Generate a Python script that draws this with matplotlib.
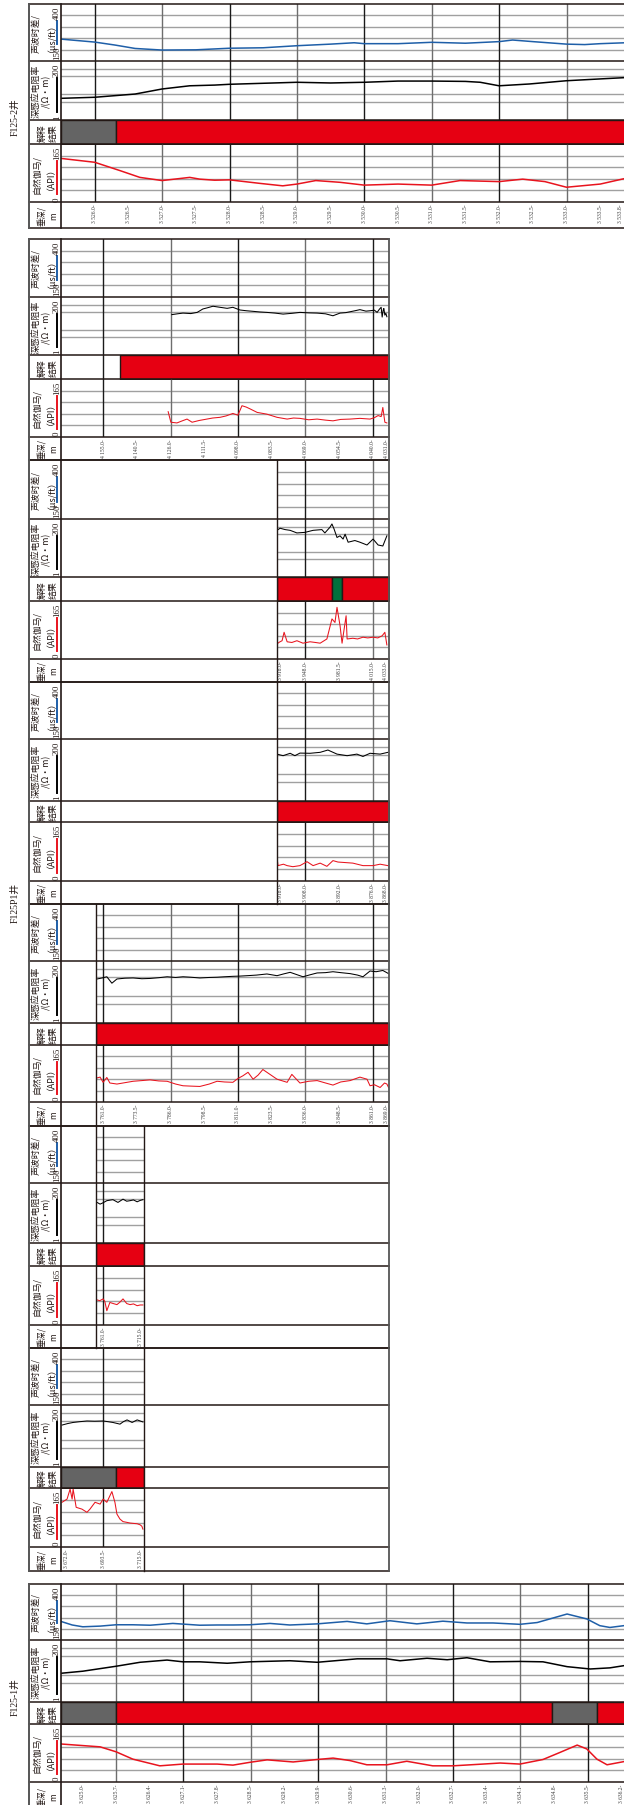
import numpy as np
import matplotlib.pyplot as plt

plt.rcParams['font.family'] = ['Noto Sans CJK SC', 'DejaVu Sans']
SERIF = ['Liberation Serif', 'Noto Sans CJK SC']

W, H = 624, 1806

red = '#e60012'
grey = '#646464'
green = '#00703c'
blue = '#1f5fa8'
gr_red = '#e8141e'
ink = '#231815'
hgrid = '#a0a0a0'
vgrid_cols = ['#1a1a1a', '#6e6e6e']

# track scales and grid values
ac_lim = (150, 400)
rt_lim = (1, 200)
gr_lim = (0, 165)
ac_grid = [200, 250, 300, 350]
rt_grid = [5, 10, 50, 100]
gr_grid = [33, 66, 99, 132]

head_lines = [["声波时差/", "（μs/ft）"], ["深感应电阻率", "/(Ω·m)"], ["解释", "结果"],
              ["自然伽马/", "（API）"], ["垂深/", "m"]]
head_scale = [("150", "400", blue), ("1", "200", "black"), None, ("0", "165", gr_red), None]

# ---------------- F125-2井 (depth, m) ----------------
f2_ac_d = [3525.50, 3526.00, 3526.30, 3526.60, 3527.00, 3527.50, 3528.00, 3528.50, 3529.00, 3529.50,
           3529.85, 3530.00, 3530.50, 3531.00, 3531.50, 3532.00, 3532.20, 3532.50, 3533.00, 3533.27,
           3533.50, 3533.87]
f2_ac = [246, 233, 220, 205, 198, 199, 206, 208, 217, 224, 230, 226, 226, 232, 228, 235, 242, 235,
         224, 222, 226, 230]
f2_rt_d = [3525.50, 3526.00, 3526.60, 3527.00, 3527.41, 3527.78, 3528.00, 3529.00, 3529.50, 3530.00,
           3530.50, 3531.00, 3531.50, 3531.72, 3532.00, 3532.45, 3533.00, 3533.50, 3533.87]
f2_rt = [7.0, 7.7, 10.3, 16.2, 21.6, 23, 24.7, 29.6, 27.8, 29.6, 33, 33, 32, 29.6, 21.6, 25.4, 34, 40, 45]
f2_gr_d = [3525.50, 3526.00, 3526.38, 3526.67, 3527.00, 3527.41, 3527.56, 3527.78, 3528.00, 3528.45,
           3528.79, 3529.00, 3529.28, 3529.64, 3530.00, 3530.50, 3531.00, 3531.42, 3532.00, 3532.35,
           3532.68, 3533.00, 3533.50, 3533.87]
f2_gr = [124, 113, 89, 70, 61, 70, 65, 62, 63, 53, 46, 51, 61, 56, 48, 51, 48, 61, 58, 65, 58, 42, 51, 67]
f2_bars = [(3525.5, 3526.32, grey), (3526.32, 3533.9, red)]
f2_ticks = [3526.0, 3526.5, 3527.0, 3527.5, 3528.0, 3528.5, 3529.0, 3529.5, 3530.0, 3530.5, 3531.0,
            3531.5, 3532.0, 3532.5, 3533.0, 3533.5, 3533.8]
f2_vgrid = [3526, 3527, 3528, 3529, 3530, 3531, 3532, 3533]

# ---------------- F125P1井 (along-hole position, TVD labels) ----------------
p1_vgrid = [1.25, 3.25, 5.25, 7.25, 9.25]
p1_ticks_full = [1.25, 2.25, 3.25, 4.25, 5.25, 6.25, 7.25, 8.25, 9.25, 9.65]
p1_ticks_tail = [6.5, 7.25, 8.25, 9.25, 9.62]

b_labels = ["4 155.0", "4 140.5", "4 126.0", "4 111.5", "4 098.0", "4 083.5", "4 069.0", "4 054.5",
            "4 040.0", "4 031.0"]
b_rt_u = [3.29, 3.45, 3.62, 3.85, 4.04, 4.21, 4.35, 4.51, 4.72, 4.93, 5.10, 5.31, 5.50, 5.70, 5.90,
          6.11, 6.35, 6.59, 6.85, 7.09, 7.35, 7.60, 7.85, 8.07, 8.28, 8.45, 8.58, 8.75, 8.87, 9.05,
          9.17, 9.30, 9.38, 9.45, 9.50, 9.53, 9.56, 9.58, 9.61, 9.64, 9.67]
b_rt = [40, 43, 46, 44, 49, 67, 75, 86, 78, 71, 78, 61, 57, 54, 51, 49, 46, 42, 45, 49, 47, 46, 43,
        36, 46, 48, 52, 58, 63, 55, 57, 60, 49, 66, 78, 32, 60, 70, 38, 45, 33]
b_gr_u = [3.18, 3.26, 3.44, 3.60, 3.74, 3.89, 4.10, 4.33, 4.50, 4.72, 4.90, 5.10, 5.25, 5.37, 5.50,
          5.61, 5.82, 6.11, 6.41, 6.71, 6.90, 7.09, 7.35, 7.60, 7.85, 8.07, 8.30, 8.58, 8.87, 9.17,
          9.30, 9.41, 9.50, 9.55, 9.61, 9.67]
b_gr = [72, 42, 40, 46, 51, 42, 47, 51, 54, 56, 60, 67, 62, 89, 85, 80, 70, 65, 56, 51, 54, 53, 49,
        51, 48, 46, 50, 51, 53, 51, 55, 61, 58, 84, 42, 40]
b_bars = [(1.75, 9.72, red)]

c_labels = ["3 918.0", "3 948.0", "3 981.5", "4 015.0", "4 033.0"]
c_rt_u = [6.41, 6.50, 6.65, 6.80, 7.00, 7.24, 7.48, 7.74, 7.83, 7.98, 8.04, 8.10, 8.19, 8.28, 8.37,
          8.43, 8.52, 8.72, 8.87, 9.08, 9.26, 9.41, 9.55, 9.67]
c_rt = [71, 86, 76, 71, 56, 59, 71, 76, 56, 94, 127, 82, 37, 43, 32, 50, 24, 28, 24, 18.6, 32, 18.6,
        17, 43]
c_gr_u = [6.41, 6.48, 6.56, 6.62, 6.71, 6.85, 7.00, 7.18, 7.39, 7.55, 7.69, 7.89, 8.04, 8.13, 8.19,
          8.28, 8.34, 8.46, 8.49, 8.66, 8.80, 8.96, 9.10, 9.26, 9.40, 9.53, 9.61, 9.67]
c_gr = [43, 48, 52, 76, 49, 47, 52, 45, 49, 47, 45, 57, 114, 104, 147, 95, 45, 123, 57, 59, 57, 62,
        60, 62, 60, 66, 76, 40]
c_bars = [(6.41, 8.04, red), (8.04, 8.34, green), (8.34, 9.72, red)]

d_labels = ["3 918.0", "3 908.0", "3 892.0", "3 876.0", "3 868.0"]
d_rt_u = [6.41, 6.59, 6.80, 6.94, 7.09, 7.39, 7.69, 7.92, 8.19, 8.49, 8.78, 8.96, 9.17, 9.47, 9.70]
d_rt = [55, 48, 59, 48, 60, 59, 64, 78, 55, 48, 55, 45, 59, 55, 64]
d_gr_u = [6.41, 6.44, 6.60, 6.71, 6.88, 7.09, 7.30, 7.48, 7.69, 7.89, 8.07, 8.22, 8.37, 8.66, 8.96,
          9.26, 9.47, 9.70]
d_gr = [66, 43, 47, 43, 40, 43, 54, 43, 50, 41, 57, 53, 52, 50, 43, 43, 47, 43]
d_bars = [(6.41, 9.72, red)]

e_labels = ["3 761.0", "3 773.5", "3 786.0", "3 798.5", "3 811.0", "3 823.5", "3 836.0", "3 848.5",
            "3 861.0", "3 869.0"]
e_rt_u = [1.07, 1.22, 1.36, 1.51, 1.66, 1.90, 2.14, 2.40, 2.64, 2.90, 3.15, 3.40, 3.62, 3.85, 4.12,
          4.40, 4.63, 4.85, 5.10, 5.30, 5.52, 5.80, 6.11, 6.41, 6.60, 6.80, 7.18, 7.40, 7.60, 7.85,
          8.07, 8.30, 8.58, 8.80, 8.96, 9.17, 9.35, 9.55, 9.72]
e_rt = [43, 47, 52, 30, 43, 46, 47, 44, 45, 48, 52, 49, 52, 50, 47, 49, 50, 52, 54, 55, 57, 60, 66,
        57, 66, 76, 52, 62, 72, 74, 80, 74, 68, 60, 52, 85, 80, 89, 68]
e_gr_u = [1.04, 1.16, 1.25, 1.36, 1.45, 1.66, 1.90, 2.14, 2.40, 2.64, 2.90, 3.15, 3.40, 3.62, 3.85,
          4.12, 4.40, 4.63, 4.85, 5.10, 5.25, 5.40, 5.55, 5.70, 5.85, 5.99, 6.20, 6.41, 6.71, 6.85,
          7.09, 7.35, 7.60, 7.85, 8.07, 8.30, 8.58, 8.87, 9.08, 9.17, 9.30, 9.47, 9.60, 9.67, 9.72]
e_gr = [69, 72, 57, 71, 55, 52, 56, 60, 62, 64, 61, 60, 52, 47, 46, 45, 52, 60, 58, 57, 68, 76, 86,
        66, 78, 94, 80, 66, 57, 80, 55, 60, 62, 55, 49, 58, 62, 72, 66, 47, 50, 42, 55, 52, 42]
e_bars = [(1.04, 9.72, red)]

f_labels = ["3 761.0", "3 715.0"]
f_ticks = [1.25, 2.37]
f_rt_u = [1.07, 1.16, 1.25, 1.36, 1.54, 1.69, 1.84, 1.95, 2.05, 2.15, 2.26, 2.35, 2.43]
f_rt = [36, 31, 35, 42, 46, 36, 48, 40, 42, 45, 38, 43, 46]
f_gr_u = [1.04, 1.15, 1.25, 1.30, 1.36, 1.45, 1.55, 1.66, 1.75, 1.84, 1.95, 2.05, 2.15, 2.26, 2.35,
          2.43]
f_gr = [71, 68, 73, 66, 40, 63, 60, 57, 64, 73, 60, 57, 59, 54, 56, 56]
f_bars = [(1.04, 2.46, red)]

g_labels = ["3 672.0", "3 693.5", "3 715.0"]
g_ticks = [0.15, 1.25, 2.37]
g_rt_u = [0.03, 0.20, 0.36, 0.55, 0.77, 1.00, 1.25, 1.40, 1.54, 1.75, 1.85, 1.96, 2.11, 2.26, 2.43]
g_rt = [36, 41, 45, 48, 51, 50, 51, 48, 45, 39, 48, 56, 45, 56, 47]
g_gr_u = [0.03, 0.18, 0.27, 0.33, 0.36, 0.45, 0.55, 0.62, 0.77, 0.86, 1.01, 1.16, 1.25, 1.36, 1.51,
          1.60, 1.66, 1.75, 1.84, 1.95, 2.05, 2.15, 2.26, 2.35, 2.40, 2.43]
g_gr = [125, 134, 162, 134, 162, 111, 108, 106, 97, 106, 125, 120, 134, 125, 155, 125, 92, 78, 71,
        69, 67, 66, 65, 62, 58, 50]
g_bars = [(0.0, 1.63, grey), (1.63, 2.46, red)]

# ---------------- F125-1井 (depth, m) ----------------
f1_ac_d = [3624.57, 3624.79, 3625.01, 3625.37, 3625.70, 3626.05, 3626.41, 3626.88, 3627.44, 3627.80,
           3628.13, 3628.48, 3628.90, 3629.31, 3629.88, 3630.50, 3630.91, 3631.39, 3631.95, 3632.49,
           3632.99, 3633.53, 3634.09, 3634.45, 3635.07, 3635.48, 3635.75, 3635.96, 3636.25]
f1_ac = [232, 217, 209, 212, 218, 218, 216, 224, 216, 217, 217, 218, 224, 217, 222, 233, 222, 236,
         222, 234, 226, 226, 220, 228, 266, 244, 214, 206, 214]
f1_rt_d = [3624.57, 3625.01, 3625.70, 3626.20, 3626.76, 3627.09, 3627.44, 3628.01, 3628.48, 3629.31,
           3629.88, 3630.71, 3631.33, 3631.60, 3632.16, 3632.58, 3632.99, 3633.47, 3634.09, 3634.57,
           3635.07, 3635.55, 3635.96, 3636.25]
f1_rt = [11.7, 13.9, 21.2, 29.8, 36, 31, 31, 27.4, 31, 34, 29.8, 40, 40, 34, 42, 37, 44, 31, 32, 31,
         20.5, 16.8, 18.5, 22.3]
f1_gr_d = [3624.57, 3625.37, 3625.70, 3626.05, 3626.61, 3627.09, 3627.80, 3628.13, 3628.48, 3628.84,
           3629.38, 3629.88, 3630.21, 3630.56, 3630.91, 3631.33, 3631.74, 3632.28, 3632.70, 3633.32,
           3633.68, 3634.09, 3634.57, 3634.92, 3635.28, 3635.48, 3635.69, 3635.90, 3636.25]
f1_gr = [108, 100, 86, 65, 46, 51, 51, 48, 56, 63, 57, 64, 68, 61, 49, 49, 59, 46, 46, 51, 54, 51,
         64, 84, 105, 94, 65, 49, 58]
f1_bars = [(3624.55, 3625.70, grey), (3625.70, 3634.76, red), (3634.76, 3635.69, grey),
           (3635.69, 3636.3, red)]
f1_ticks = [3625.0, 3625.7, 3626.4, 3627.1, 3627.8, 3628.5, 3629.2, 3629.9, 3630.6, 3631.3, 3632.0,
            3632.7, 3633.4, 3634.1, 3634.8, 3635.5, 3636.2]
f1_vgrid = [3625.7, 3627.1, 3628.5, 3629.9, 3631.3, 3632.7, 3634.1, 3635.5]


def depth_labels(ticks):
    return [f"{t:,.1f}".replace(",", " ") for t in ticks]


P1 = dict(x0=61, u0=0.0, scale=33.7, xr=388.5, vgrid=p1_vgrid, vcol0=0, lw=0.75)
panels = [
    dict(ys=[5, 62, 121, 145, 203, 229], x0=61, u0=3525.5, scale=67.4, xr=W + 3, g=(3525.5, 3533.9),
         vgrid=f2_vgrid, vcol0=0, lw=1.1, ticks=f2_ticks, labels=depth_labels(f2_ticks), bars=f2_bars,
         ac=(f2_ac_d, f2_ac), rt=(f2_rt_d, f2_rt), gr=(f2_gr_d, f2_gr)),
    dict(P1, ys=[240, 298, 356, 380, 438, 461], g=(0.0, 9.72), ticks=p1_ticks_full, labels=b_labels,
         bars=b_bars, ac=None, rt=(b_rt_u, b_rt), gr=(b_gr_u, b_gr)),
    dict(P1, ys=[461, 520, 578, 602, 660, 683], g=(6.41, 9.72), ticks=p1_ticks_tail, labels=c_labels,
         bars=c_bars, ac=None, rt=(c_rt_u, c_rt), gr=(c_gr_u, c_gr)),
    dict(P1, ys=[683, 740, 802, 823, 882, 905], g=(6.41, 9.72), ticks=p1_ticks_tail, labels=d_labels,
         bars=d_bars, ac=None, rt=(d_rt_u, d_rt), gr=(d_gr_u, d_gr)),
    dict(P1, ys=[905, 962, 1024, 1046, 1103, 1127], g=(1.04, 9.72), ticks=p1_ticks_full, labels=e_labels,
         bars=e_bars, ac=None, rt=(e_rt_u, e_rt), gr=(e_gr_u, e_gr)),
    dict(P1, ys=[1127, 1184, 1244, 1267, 1326, 1349], g=(1.04, 2.46), ticks=f_ticks, labels=f_labels,
         bars=f_bars, ac=None, rt=(f_rt_u, f_rt), gr=(f_gr_u, f_gr)),
    dict(P1, ys=[1349, 1406, 1468, 1489, 1548, 1572], g=(0.0, 2.46), ticks=g_ticks, labels=g_labels,
         bars=g_bars, ac=None, rt=(g_rt_u, g_rt), gr=(g_gr_u, g_gr)),
    dict(ys=[1585, 1641, 1703, 1725, 1783, 1812], x0=116, u0=3625.7, scale=48.14, xr=W + 3,
         g=(3624.55, 3636.3), vgrid=f1_vgrid, vcol0=1, lw=1.1, ticks=f1_ticks,
         labels=depth_labels(f1_ticks), bars=f1_bars,
         ac=(f1_ac_d, f1_ac), rt=(f1_rt_d, f1_rt), gr=(f1_gr_d, f1_gr)),
]

fig = plt.figure(figsize=(W / 100, H / 100), dpi=100)
cv = fig.add_axes([0, 0, 1, 1], zorder=5)
cv.set_xlim(0, W)
cv.set_ylim(H, 0)
cv.axis('off')


def px(p, u):
    return p['x0'] + p['scale'] * (u - p['u0'])


def track(p, i, lim, log=False):
    x0, x1 = px(p, p['g'][0]), px(p, p['g'][1])
    y0, y1 = p['ys'][i], p['ys'][i + 1]
    ax = fig.add_axes([x0 / W, 1 - y1 / H, (x1 - x0) / W, (y1 - y0) / H], zorder=1)
    ax.set_xlim(*p['g'])
    if log:
        ax.set_yscale('log')
    ax.set_ylim(*lim)
    ax.axis('off')
    for k, v in enumerate([v for v in p['vgrid'] if p['g'][0] < v < p['g'][1]]):
        ax.axvline(v, color=vgrid_cols[(k + p['vcol0']) % 2], lw=1.0, zorder=1)
    return ax


def header(ys):
    for i, lines in enumerate(head_lines):
        top, bot = ys[i], min(ys[i + 1], H + 6)
        mid = (top + bot) / 2
        sc = head_scale[i]
        if sc:
            cv.text(36.5, mid, lines[0], rotation=90, ha='center', va='center', fontsize=6.4, color=ink)
            cv.text(47, mid, lines[1], rotation=90, ha='center', va='center', fontsize=6.4, color=ink)
            lo, hi, col = sc
            cv.text(56.8, bot - 1.5, lo, rotation=90, ha='center', va='bottom', fontsize=6.3,
                    family=SERIF, color=ink)
            cv.text(56.8, top + 1.5, hi, rotation=90, ha='center', va='top', fontsize=6.3,
                    family=SERIF, color=ink)
            cv.plot([56.5, 56.5], [bot - 4 - 4.4 * len(lo), top + 4 + 4.4 * len(hi)], color=col, lw=1.4)
        else:
            fs = 6.4 if i == 2 else 6.0
            cv.text(42, mid, lines[0], rotation=90, ha='center', va='center', fontsize=fs, color=ink)
            cv.text(53.5, mid, lines[1], rotation=90, ha='center', va='center', fontsize=fs, color=ink)


for p in panels:
    ys = p['ys']
    ax_ac = track(p, 0, ac_lim)
    for v in ac_grid:
        ax_ac.axhline(v, color=hgrid, lw=1.0, zorder=0)
    if p['ac']:
        ax_ac.plot(p['ac'][0], p['ac'][1], color=blue, lw=p['lw'], zorder=3)

    ax_rt = track(p, 1, rt_lim, log=True)
    for v in rt_grid:
        ax_rt.axhline(v, color=hgrid, lw=1.0, zorder=0)
    ax_rt.plot(p['rt'][0], p['rt'][1], color='black', lw=p['lw'], zorder=3)

    ax_js = track(p, 2, (0, 1))
    for s, e, c in p['bars']:
        ax_js.broken_barh([(s, e - s)], (0, 1), facecolors=c, edgecolors=ink, linewidth=1.0, zorder=3)

    ax_gr = track(p, 3, gr_lim)
    for v in gr_grid:
        ax_gr.axhline(v, color=hgrid, lw=1.0, zorder=0)
    ax_gr.plot(p['gr'][0], p['gr'][1], color=gr_red, lw=p['lw'], zorder=3)

    # depth column labels
    for t, lab in zip(p['ticks'], p['labels']):
        cv.text(px(p, t), ys[4] + 1.2, lab + '-', rotation=90, ha='center', va='top', fontsize=4,
                family=SERIF, color='#3a3a3a')

    # frame lines
    xr = p['xr']
    for y in ys:
        cv.plot([29, xr], [y, y], color=ink, lw=1.1, solid_capstyle='projecting')
    cv.plot([29, 29], [ys[0], ys[-1]], color='#555555', lw=1.4)
    cv.plot([61, 61], [ys[0], ys[-1]], color=ink, lw=1.2)
    if xr < W:
        cv.plot([xr, xr], [ys[0], ys[-1]], color='#555555', lw=1.3)
    g0, g1 = px(p, p['g'][0]), px(p, p['g'][1])
    if g0 > 62:
        cv.plot([g0, g0], [ys[0], ys[-1]], color=ink, lw=1.0)
    if g1 < xr - 2:
        cv.plot([g1, g1], [ys[0], ys[-1]], color=ink, lw=1.0)
    header(ys)

cv.text(15, 117, 'F125-2井', rotation=90, ha='center', va='center', fontsize=7, family=SERIF, color=ink)
cv.text(15, 903, 'F125P1井', rotation=90, ha='center', va='center', fontsize=7, family=SERIF, color=ink)
cv.text(15, 1697, 'F125-1井', rotation=90, ha='center', va='center', fontsize=7, family=SERIF, color=ink)

fig.savefig('out.png', dpi=100)
